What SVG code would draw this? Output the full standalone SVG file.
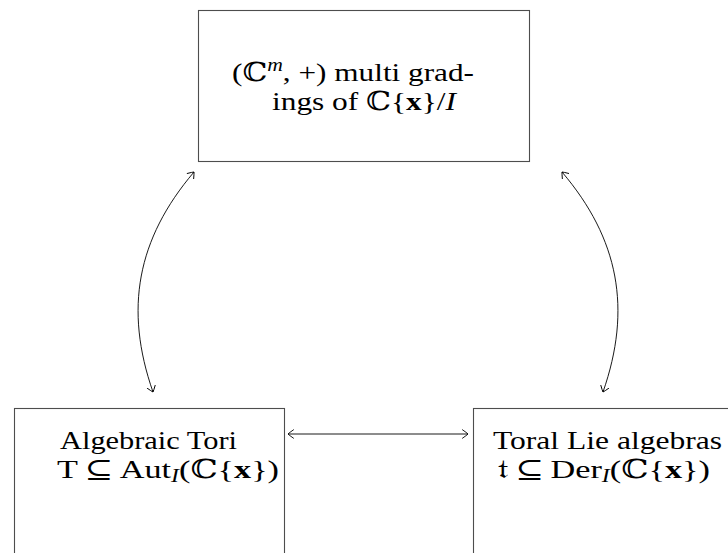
<svg xmlns="http://www.w3.org/2000/svg" width="728" height="553" viewBox="0 0 728 553">
<style>
.box{fill:#fff;stroke:#4d4d4d;stroke-width:1.1}
.lbl{font-family:"Liberation Serif","DejaVu Serif",serif;font-size:26px;fill:#000}
.it{font-style:italic}
.bf{font-weight:bold}
.sm{font-size:18px}
.con{fill:none;stroke:#000;stroke-width:0.9;marker-start:url(#ah);marker-end:url(#ah)}
</style>
<defs>
<marker id="ah" viewBox="-6 -5 8 10" markerWidth="8" markerHeight="10" refX="0" refY="0" orient="auto-start-reverse" markerUnits="userSpaceOnUse">
<path d="M-5.5,-4.2 Q-1.2,-1.2 0,0 Q-1.2,1.2 -5.5,4.2" fill="none" stroke="#000" stroke-width="0.9" stroke-linecap="round"/>
</marker>
</defs>
<g id="top">
<rect class="box" x="198.5" y="10.5" width="331" height="151"/>
<text class="lbl" x="232" y="81" textLength="242" lengthAdjust="spacingAndGlyphs">(ℂ<tspan class="it sm" dy="-10">m</tspan><tspan dy="10">, +) multi grad-</tspan></text>
<text class="lbl" x="272" y="110" textLength="184" lengthAdjust="spacingAndGlyphs">ings of ℂ{<tspan class="bf">x</tspan>}/<tspan class="it">I</tspan></text>
</g>
<g id="tori">
<rect class="box" x="14.5" y="408.5" width="270" height="160"/>
<text class="lbl" x="60" y="449" textLength="177" lengthAdjust="spacingAndGlyphs">Algebraic Tori</text>
<text class="lbl" x="57" y="478" textLength="222" lengthAdjust="spacingAndGlyphs">T<tspan dx="5">⊆</tspan><tspan dx="5">Aut</tspan><tspan class="it sm" dy="4">I</tspan><tspan dy="-4">(ℂ{</tspan><tspan class="bf">x</tspan>})</text>
</g>
<g id="lie">
<rect class="box" x="473.5" y="408.5" width="270" height="160"/>
<text class="lbl" x="493" y="449" textLength="229" lengthAdjust="spacingAndGlyphs">Toral Lie algebras</text>
<text class="lbl" x="498" y="478" textLength="212" lengthAdjust="spacingAndGlyphs">𝔱<tspan dx="5">⊆</tspan><tspan dx="5">Der</tspan><tspan class="it sm" dy="4">I</tspan><tspan dy="-4">(ℂ{</tspan><tspan class="bf">x</tspan>})</text>
</g>
<g id="connectors">
<path class="con" d="M194,172 C137,239 124,309 153,392"/>
<path class="con" d="M562,172 C619,239 632,309 603,392"/>
<path class="con" d="M288,434 L468,434"/>
</g>
</svg>
